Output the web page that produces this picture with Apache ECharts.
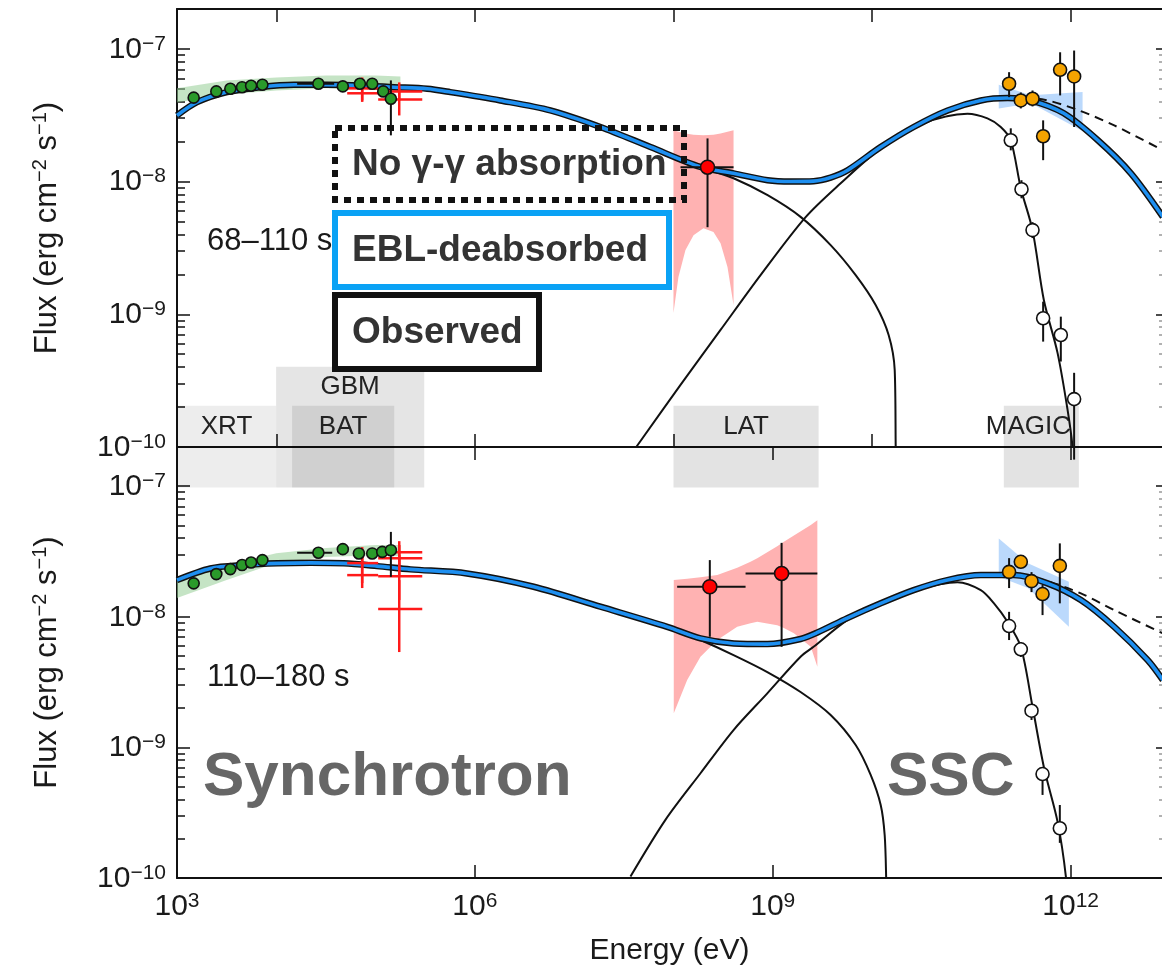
<!DOCTYPE html>
<html><head><meta charset="utf-8">
<script src="https://cdn.jsdelivr.net/npm/echarts@6/dist/echarts.min.js"></script>
<style>html,body{margin:0;padding:0;background:#fff}#c{width:1162px;height:971px}</style>
</head><body><div id="c"></div>
<script>
// All values: log10(E / eV) on x, log10(flux / erg cm^-2 s^-1) on y.
const xTickLabels = [3, 6, 9, 12];
const yTickLabels = [-10, -9, -8, -7];
const minorMultipliers = [2, 3, 4, 5, 6, 7, 8, 9];
const topTicksTopPanel = [4, 6, 8, 10, 12];
const bottomTicksTopPanel = [4, 6, 8, 10, 12];
const ticksBottomPanel = [6, 9, 12];

// instrument ranges: [logEmin, logEmax, logFtop, labelLogE, labelLogF]
const instruments = [
  [3.0, 3.998, -9.689, 3.499, -9.847],
  [3.998, 5.49, -9.396, 4.744, -9.547],
  [4.159, 5.188, -9.689, 4.673, -9.847],
  [8.0, 9.462, -9.689, 8.731, -9.847],
  [11.327, 12.083, -9.689, 11.574, -9.847]
];
const instrumentNames = ['XRT', 'GBM', 'BAT', 'LAT', 'MAGIC'];
const instrumentBottom = -10.306;

// ---------- top panel (68–110 s) ----------
// [logE, logF, logEmin, logEmax, logFhi, logFlo]
const xrtBatTop = [
  [3.168,-7.368,null,null,null,null],[3.396,-7.321,null,null,null,null],[3.537,-7.301,null,null,null,null],
  [3.655,-7.289,null,null,null,null],[3.746,-7.278,null,null,null,null],[3.860,-7.271,null,null,null,null],
  [4.424,-7.263,4.210,4.583,null,null],[4.670,-7.283,null,null,null,null],[4.842,-7.263,null,null,null,null],
  [4.966,-7.263,null,null,null,null],[5.077,-7.321,null,null,null,null],[5.154,-7.376,null,null,-7.238,-7.652]
];
const greenBandTopE = [3.0, 3.5, 4.0, 4.5, 5.0, 5.25];
const greenBandTopHi = [-7.298, -7.238, -7.216, -7.201, -7.201, -7.209];
const greenBandTopLo = [-7.404, -7.344, -7.314, -7.298, -7.306, -7.329];
const gbmTop = [
  [4.865,-7.298,4.714,5.026,-7.216,-7.389],
  [4.865,-7.335,4.714,5.026,-7.270,-7.400],
  [5.238,-7.321,5.026,5.470,-7.253,-7.389],
  [5.238,-7.381,5.026,5.470,-7.298,-7.502]
];
const latTop = [[8.343,-7.892,8.071,8.605,-7.675,-8.344]];
const latBandTopE = [8.0, 8.050, 8.121, 8.202, 8.302, 8.403, 8.474, 8.544, 8.605];
const latBandTopHi = [-7.614, -7.625, -7.638, -7.648, -7.652, -7.648, -7.638, -7.625, -7.614];
const latBandTopLo = [-8.990, -8.719, -8.516, -8.404, -8.351, -8.381, -8.464, -8.644, -8.930];
const magicDeabsTop = [
  [11.380,-7.263,null,null,-7.176,-7.364],[11.498,-7.389,null,null,-7.329,-7.449],
  [11.616,-7.376,null,null,-7.314,-7.434],[11.723,-7.659,null,null,-7.539,-7.839],
  [11.894,-7.158,null,null,-7.026,-7.351],[12.035,-7.208,null,null,-7.013,-7.589]
];
const magicObsTop = [
  [11.397,-7.689,null,null,-7.599,-7.765],[11.505,-8.058,null,null,-7.990,-8.126],
  [11.616,-8.366,null,null,-8.306,-8.426],[11.723,-9.030,null,null,-8.905,-9.206],
  [11.901,-9.156,null,null,-9.018,-9.356],[12.035,-9.639,null,null,-9.441,-10.095]
];
const magicBandTopE = [11.276, 11.6, 12.12];
const magicBandTopHi = [-7.27, -7.35, -7.326];
const magicBandTopLo = [-7.45, -7.41, -7.62];
const eblTopE = [3.000,3.202,3.504,3.837,4.179,4.512,4.845,5.188,5.520,5.752,6.256,6.760,7.264,7.768,8.272,8.605,8.948,9.180,9.411,9.583,9.754,10.087,10.419,10.762,11.095,11.367,11.599,11.931,12.274,12.607,12.929];
const eblTopF = [-7.502,-7.402,-7.326,-7.289,-7.271,-7.271,-7.276,-7.289,-7.301,-7.326,-7.389,-7.464,-7.589,-7.740,-7.890,-7.938,-7.990,-8.000,-7.997,-7.970,-7.915,-7.740,-7.589,-7.464,-7.389,-7.371,-7.389,-7.486,-7.689,-7.938,-8.266];
const syncTopE = [7.264,7.768,8.272,8.605,8.948,9.280,9.583,9.835,10.036,10.167,10.228,10.238,10.242];
const syncTopF = [-7.589,-7.740,-7.890,-7.975,-8.103,-8.266,-8.479,-8.705,-8.930,-9.156,-9.419,-9.998,-10.3];
const obsTopE = [7.627,8.071,8.474,8.877,9.331,9.684,10.087,10.490,10.961,11.162,11.296,11.397,11.498,11.616,11.730,11.868,11.969,12.019,12.03];
const obsTopF = [-9.998,-9.532,-9.118,-8.705,-8.268,-8.013,-7.750,-7.569,-7.489,-7.524,-7.589,-7.689,-8.050,-8.366,-8.892,-9.291,-9.720,-9.998,-10.2];
const noAbsTopE = [11.367,11.666,12.035,12.439,12.929];
const noAbsTopF = [-7.371,-7.376,-7.451,-7.577,-7.765];

// ---------- bottom panel (110–180 s) ----------
const xrtBatBot = [
  [3.168,-7.744,null,null,null,null],[3.396,-7.673,null,null,null,null],[3.537,-7.635,null,null,null,null],
  [3.655,-7.604,null,null,null,null],[3.746,-7.584,null,null,null,null],[3.860,-7.566,null,null,null,null],
  [4.424,-7.510,4.210,4.563,null,null],[4.670,-7.482,null,null,null,null],[4.832,-7.515,null,null,null,null],
  [4.966,-7.515,null,null,null,null],[5.067,-7.503,null,null,null,null],[5.154,-7.490,null,null,-7.350,-7.694]
];
const greenBandBotE = [3.0, 3.5, 4.0, 4.5, 5.0, 5.25];
const greenBandBotHi = [-7.696, -7.604, -7.513, -7.474, -7.451, -7.451];
const greenBandBotLo = [-7.857, -7.719, -7.589, -7.543, -7.528, -7.536];
const gbmBot = [
  [4.865,-7.589,4.714,5.026,-7.467,-7.742],
  [4.865,-7.681,4.714,5.026,-7.528,-7.780],
  [5.238,-7.505,5.026,5.470,-7.421,-7.604],
  [5.238,-7.551,5.026,5.470,-7.451,-7.681],
  [5.238,-7.689,5.026,5.470,-7.528,-7.872],
  [5.238,-7.941,5.026,5.470,-7.719,-8.270]
];
const latBot = [
  [8.366,-7.770,8.037,8.726,-7.566,-8.153],
  [9.089,-7.668,8.726,9.449,-7.434,-8.230]
];
const latBandBotE = [8.003,8.138,8.272,8.441,8.642,8.776,8.844,9.045,9.112,9.213,9.383,9.449];
const latBandBotHi = [-7.719,-7.708,-7.697,-7.681,-7.625,-7.579,-7.552,-7.460,-7.426,-7.377,-7.297,-7.260];
const latBandBotLo = [-8.739,-8.484,-8.306,-8.178,-8.076,-8.050,-8.038,-8.064,-8.085,-8.127,-8.230,-8.383];
const magicDeabsBot = [
  [11.380,-7.656,null,null,-7.551,-7.780],[11.498,-7.579,null,null,-7.528,-7.627],
  [11.606,-7.727,null,null,-7.658,-7.811],[11.717,-7.826,null,null,-7.757,-7.987],
  [11.891,-7.610,null,null,-7.438,-7.897]
];
const magicObsBot = [
  [11.380,-8.071,null,null,-7.962,-8.178],[11.498,-8.249,null,null,-8.194,-8.308],
  [11.606,-8.719,null,null,-8.676,-8.790],[11.717,-9.204,null,null,-9.158,-9.364],
  [11.891,-9.619,null,null,-9.441,-9.731]
];
const magicBandBotE = [11.276, 11.57, 11.982];
const magicBandBotHi = [-7.40, -7.59, -7.732];
const magicBandBotLo = [-7.694, -7.78, -8.077];
const eblBotE = [3.000,3.336,3.672,4.008,4.344,4.680,5.016,5.352,5.920,6.592,7.264,7.937,8.272,8.608,8.945,9.280,9.450,9.751,10.087,10.419,10.759,11.095,11.427,11.767,12.103,12.439,12.775,12.929];
const eblBotF = [-7.719,-7.630,-7.604,-7.591,-7.587,-7.591,-7.612,-7.637,-7.668,-7.770,-7.923,-8.077,-8.165,-8.204,-8.209,-8.170,-8.120,-8.010,-7.897,-7.796,-7.719,-7.681,-7.681,-7.744,-7.872,-8.077,-8.331,-8.484];
const syncBotE = [7.264,7.937,8.272,8.605,8.945,9.280,9.583,9.835,9.986,10.087,10.127,10.142,10.147];
const syncBotF = [-7.923,-8.077,-8.178,-8.293,-8.423,-8.576,-8.752,-8.982,-9.211,-9.441,-9.671,-9.999,-10.3];
const obsBotE = [7.567,7.919,8.272,8.605,8.945,9.280,9.411,9.751,10.087,10.419,10.860,11.095,11.226,11.364,11.498,11.616,11.733,11.868,11.952,11.962];
const obsBotF = [-9.989,-9.555,-9.198,-8.867,-8.586,-8.306,-8.230,-8.025,-7.900,-7.800,-7.735,-7.796,-7.895,-8.038,-8.230,-8.689,-9.160,-9.568,-9.989,-10.2];
const noAbsBotE = [11.498,11.733,12.103,12.439,12.929];
const noAbsBotF = [-7.689,-7.719,-7.821,-7.949,-8.127];

// ---------------- chart ----------------
const FONT = '"Liberation Sans", Arial, Helvetica, sans-serif';
const INK = '#1a1a1a';
const X_MAX = 12.92;
const minorValues = [];
yTickLabels.forEach(d => { if (d < -7) minorMultipliers.forEach(k => minorValues.push(d + Math.log10(k))); });

function supLabel(v) { return '{b|10}{s|' + (v < 0 ? '\u2212' + (-v) : v) + '}'; }
const labelRich = {
  b: { fontSize: 30, fontFamily: FONT, color: INK, lineHeight: 31, verticalAlign: 'bottom' },
  s: { fontSize: 21, fontFamily: FONT, color: INK, lineHeight: 31, verticalAlign: 'top' }
};

function xAxis(gridIndex, position, ticks, labels) {
  return {
    type: 'value', gridIndex, position, min: 3, max: X_MAX, interval: 1,
    axisLine: { show: true, onZero: false, lineStyle: { color: '#111', width: 2 } },
    axisTick: { show: ticks.length > 0, inside: true, length: 13, customValues: ticks, lineStyle: { color: '#111', width: 1.5 } },
    axisLabel: labels ? { show: true, customValues: xTickLabels, margin: 13, formatter: supLabel, rich: labelRich } : { show: false },
    splitLine: { show: false }
  };
}
function yAxes(gridIndex, max) {
  const base = { type: 'value', gridIndex, min: -10, max, interval: 1, splitLine: { show: false } };
  return [
    Object.assign({}, base, {
      position: 'left',
      axisLine: { show: true, onZero: false, lineStyle: { color: '#111', width: 2 } },
      axisTick: { show: true, inside: true, length: 13, customValues: yTickLabels, lineStyle: { color: '#111', width: 1.5 } },
      axisLabel: { show: true, customValues: yTickLabels, margin: 11, formatter: supLabel, rich: labelRich },
      name: '{n|Flux (erg cm}{s|\u22122}{n| s}{s|\u22121}{n|)}',
      nameLocation: 'middle', nameRotate: 90, nameGap: 114,
      nameTextStyle: { rich: {
        n: { fontSize: 31, fontFamily: FONT, color: INK, lineHeight: 33, verticalAlign: 'bottom' },
        s: { fontSize: 20, fontFamily: FONT, color: INK, lineHeight: 33, verticalAlign: 'top' } } }
    }),
    Object.assign({}, base, {
      position: 'left', axisLine: { show: false }, axisLabel: { show: false },
      axisTick: { show: true, inside: true, length: 8, customValues: minorValues, lineStyle: { color: '#111', width: 1.5 } }
    }),
    Object.assign({}, base, {
      position: 'right', axisLine: { show: false }, axisLabel: { show: false },
      axisTick: { show: true, inside: true, length: 6, customValues: yTickLabels, lineStyle: { color: '#111', width: 1.5 } }
    }),
    Object.assign({}, base, {
      position: 'right', axisLine: { show: false }, axisLabel: { show: false },
      axisTick: { show: true, inside: true, length: 3, customValues: minorValues, lineStyle: { color: '#999', width: 1.5 } }
    })
  ];
}

function pts(E, F) { return E.map((e, i) => [e, F[i]]); }
function lineSeries(E, F, xi, yi, color, width, z, dash) {
  return { type: 'line', xAxisIndex: xi, yAxisIndex: yi, data: pts(E, F), showSymbol: false, symbol: 'none',
    smooth: 0.3, z, silent: true, animation: false,
    lineStyle: { color, width, type: dash ? [9, 6] : 'solid', cap: 'butt' } };
}
function bandSeries(E, HI, LO, xi, yi, color, z) {
  return { type: 'custom', xAxisIndex: xi, yAxisIndex: yi, z, silent: true, animation: false,
    data: [[E[0], HI[0]]], encode: { x: 0, y: 1 },
    renderItem: (params, api) => {
      const p = [];
      for (let i = 0; i < E.length; i++) p.push(api.coord([E[i], HI[i]]));
      for (let i = E.length - 1; i >= 0; i--) p.push(api.coord([E[i], LO[i]]));
      return { type: 'polygon', shape: { points: p }, style: { fill: color } };
    } };
}
function errSeries(arr, xi, yi, color, width, z) {
  return { type: 'custom', xAxisIndex: xi, yAxisIndex: yi, z, silent: true, animation: false, clip: false,
    data: arr.map(r => [r[0], r[1]]), encode: { x: 0, y: 1 },
    renderItem: (params, api) => {
      const r = arr[params.dataIndex], ch = [];
      if (r[2] != null) { const a = api.coord([r[2], r[1]]), b = api.coord([r[3], r[1]]);
        ch.push({ type: 'line', shape: { x1: a[0], y1: a[1], x2: b[0], y2: b[1] }, style: { stroke: color, lineWidth: width } }); }
      if (r[4] != null) { const a = api.coord([r[0], r[4]]), b = api.coord([r[0], r[5]]);
        ch.push({ type: 'line', shape: { x1: a[0], y1: a[1], x2: b[0], y2: b[1] }, style: { stroke: color, lineWidth: width } }); }
      return { type: 'group', children: ch };
    } };
}
function markers(arr, xi, yi, color, size, z) {
  return { type: 'scatter', xAxisIndex: xi, yAxisIndex: yi, z, silent: true, animation: false,
    data: arr.map(r => [r[0], r[1]]), symbol: 'circle', symbolSize: size,
    itemStyle: { color, borderColor: '#111', borderWidth: 1.6, opacity: 1 } };
}
const instrumentFill = ['rgba(0,0,0,0.07)', 'rgba(0,0,0,0.10)', 'rgba(0,0,0,0.09)', 'rgba(0,0,0,0.11)', 'rgba(0,0,0,0.11)'];
const instrumentSeries = { type: 'custom', xAxisIndex: 0, yAxisIndex: 0, z: 1, silent: true, animation: false, clip: false,
  data: instruments.map(r => [r[0], r[2]]), encode: { x: 0, y: 1 },
  renderItem: (params, api) => {
    const r = instruments[params.dataIndex];
    const a = api.coord([r[0], r[2]]), b = api.coord([r[1], instrumentBottom]), c = api.coord([r[3], r[4]]);
    return { type: 'group', children: [
      { type: 'rect', shape: { x: a[0], y: a[1], width: b[0] - a[0], height: b[1] - a[1] }, style: { fill: instrumentFill[params.dataIndex] } },
      { type: 'text', style: { text: instrumentNames[params.dataIndex], x: c[0], y: c[1], align: 'center', verticalAlign: 'middle',
        fontSize: 26, fontFamily: FONT, fill: '#222' } }
    ] };
  } };

function panel(xi, yi, d) {
  return [
    bandSeries(d.gE, d.gHi, d.gLo, xi, yi, 'rgba(150,205,150,0.55)', 2),
    bandSeries(d.lE, d.lHi, d.lLo, xi, yi, '#ffb2b2', 2),
    bandSeries(d.mE, d.mHi, d.mLo, xi, yi, 'rgba(120,180,250,0.5)', 2),
    lineSeries(d.syncE, d.syncF, xi, yi, '#111', 2, 3),
    lineSeries(d.obsE, d.obsF, xi, yi, '#111', 2, 3),
    lineSeries(d.naE, d.naF, xi, yi, '#111', 2, 3, true),
    lineSeries(d.eblE, d.eblF, xi, yi, '#111', 6.5, 4),
    lineSeries(d.eblE, d.eblF, xi, yi, '#1e8ff0', 3.6, 5),
    errSeries(d.gbm, xi, yi, '#ff1a1a', 2.5, 6),
    errSeries(d.green, xi, yi, '#111', 2, 6),
    errSeries(d.lat, xi, yi, '#111', 2, 6),
    errSeries(d.mDe, xi, yi, '#111', 2, 6),
    errSeries(d.mOb, xi, yi, '#111', 2, 6),
    markers(d.green, xi, yi, '#2a9a2a', 11, 7),
    markers(d.lat, xi, yi, '#ff0000', 14, 7),
    markers(d.mDe, xi, yi, '#f5a300', 13, 7),
    markers(d.mOb, xi, yi, '#ffffff', 13, 7)
  ];
}

const series = [instrumentSeries].concat(
  panel(0, 0, { gE: greenBandTopE, gHi: greenBandTopHi, gLo: greenBandTopLo, lE: latBandTopE, lHi: latBandTopHi, lLo: latBandTopLo,
    mE: magicBandTopE, mHi: magicBandTopHi, mLo: magicBandTopLo, syncE: syncTopE, syncF: syncTopF, obsE: obsTopE, obsF: obsTopF,
    naE: noAbsTopE, naF: noAbsTopF, eblE: eblTopE, eblF: eblTopF, gbm: gbmTop, green: xrtBatTop, lat: latTop, mDe: magicDeabsTop, mOb: magicObsTop }),
  panel(2, 4, { gE: greenBandBotE, gHi: greenBandBotHi, gLo: greenBandBotLo, lE: latBandBotE, lHi: latBandBotHi, lLo: latBandBotLo,
    mE: magicBandBotE, mHi: magicBandBotHi, mLo: magicBandBotLo, syncE: syncBotE, syncF: syncBotF, obsE: obsBotE, obsF: obsBotF,
    naE: noAbsBotE, naF: noAbsBotF, eblE: eblBotE, eblF: eblBotF, gbm: gbmBot, green: xrtBatBot, lat: latBot, mDe: magicDeabsBot, mOb: magicObsBot })
);

const xAxes = [
  xAxis(0, 'bottom', bottomTicksTopPanel, false),
  xAxis(0, 'top', topTicksTopPanel, false),
  Object.assign(xAxis(1, 'bottom', ticksBottomPanel, true), {
    name: 'Energy (eV)', nameLocation: 'middle', nameGap: 58,
    nameTextStyle: { fontSize: 30, fontFamily: FONT, color: INK } }),
  Object.assign(xAxis(1, 'top', ticksBottomPanel, false), { axisLine: { show: false } })
];

const legendText = (t, x, y) => ({ type: 'text', z: 101, style: { text: t, x, y, verticalAlign: 'middle', fontSize: 37, fontWeight: 'bold', fontFamily: FONT, fill: '#333' } });
const option = {
  backgroundColor: '#fff', animation: false,
  grid: [
    { left: 177, top: 9, right: 0, height: 438, containLabel: false },
    { left: 177, top: 447, right: 0, height: 431, containLabel: false }
  ],
  xAxis: xAxes,
  yAxis: yAxes(0, -6.7).concat(yAxes(1, -6.7)),
  series,
  graphic: [
    { type: 'text', z: 50, style: { text: '68\u2013110 s', x: 207, y: 241, verticalAlign: 'middle', fontSize: 31, fontFamily: FONT, fill: INK } },
    { type: 'text', z: 50, style: { text: '110\u2013180 s', x: 207, y: 677, verticalAlign: 'middle', fontSize: 31, fontFamily: FONT, fill: INK } },
    { type: 'text', z: 50, style: { text: 'Synchrotron', x: 203, y: 778, verticalAlign: 'middle', fontSize: 62, fontWeight: 'bold', fontFamily: FONT, fill: '#666' } },
    { type: 'text', z: 50, style: { text: 'SSC', x: 887, y: 778, verticalAlign: 'middle', fontSize: 62, fontWeight: 'bold', fontFamily: FONT, fill: '#666' } },
    { type: 'rect', z: 100, shape: { x: 335, y: 128, width: 349, height: 72 }, style: { fill: 'none', stroke: '#111', lineWidth: 6, lineDash: [7, 6] } },
    { type: 'rect', z: 100, shape: { x: 335, y: 213, width: 334, height: 74 }, style: { fill: '#fff', stroke: '#0aa2f5', lineWidth: 6 } },
    { type: 'rect', z: 100, shape: { x: 335, y: 295, width: 204, height: 74 }, style: { fill: '#fff', stroke: '#111', lineWidth: 6 } },
    legendText('No \u03b3-\u03b3 absorption', 352, 165),
    legendText('EBL-deabsorbed', 352, 251),
    legendText('Observed', 352, 333)
  ]
};
const chart = echarts.init(document.getElementById('c'), null, { renderer: 'canvas' });
chart.setOption(option);
</script></body></html>
